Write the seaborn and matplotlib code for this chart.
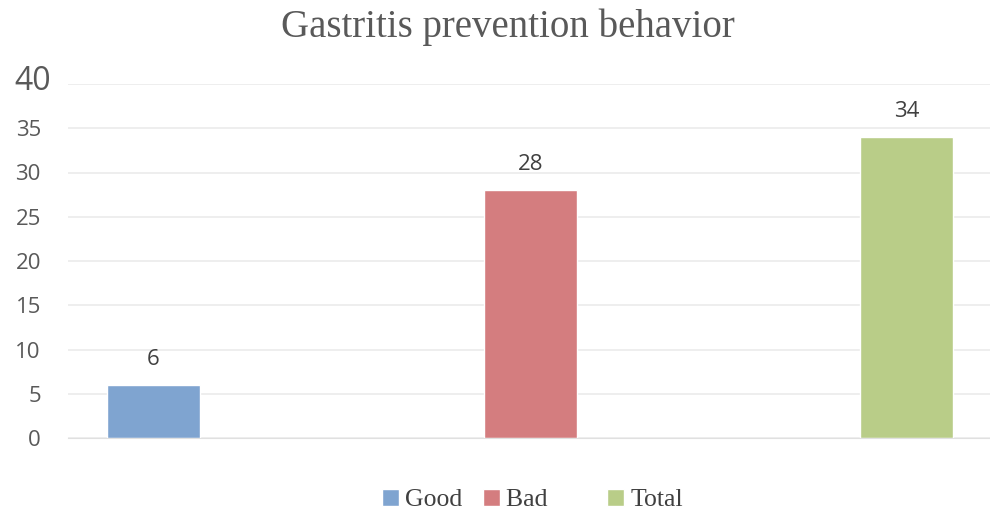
import matplotlib
matplotlib.use('Agg')
import matplotlib.pyplot as plt
import seaborn as sns
import pandas as pd

# Data
categories = ['Good', 'Bad', 'Total']
counts = [6, 28, 34]
colors = ['#7FA4D0', '#D47D7F', '#B9CD88']

df = pd.DataFrame({'group': categories, 'count': counts})

sns.set_style('white')
plt.rcParams['font.family'] = ['Open Sans', 'DejaVu Sans']

fig = plt.figure(figsize=(9.9, 5.14), dpi=100)
ax = fig.add_axes([68 / 990, 76 / 514, 1 - 68 / 990, 354 / 514])

sns.barplot(data=df, x='group', y='count', hue='group', palette=colors,
            width=0.247, dodge=False, legend=False, saturation=1, ax=ax)

ax.set_xlim(-0.227, 2.221)
ax.set_ylim(0, 40)
ax.set_yticks(range(0, 41, 5))
ax.set_yticklabels([str(v) for v in range(0, 36, 5)] + [''])
ax.yaxis.grid(True, color='#EBEBEB', linewidth=1.2)
ax.set_axisbelow(True)
for s in ['top', 'right', 'left']:
    ax.spines[s].set_visible(False)
ax.spines['bottom'].set_color('#E0E0E0')
ax.set_xticks([])
ax.set_xlabel('')
ax.set_ylabel('')
ax.tick_params(axis='y', length=0, labelsize=16, labelcolor='#595959', pad=19.5)

# top tick label is drawn larger and sticks out in the reference
ax.text(-54 / 922, 40.25, '40', transform=ax.get_yaxis_transform(),
        ha='left', va='center', fontsize=23, color='#595959', clip_on=False)

for c in ax.containers:
    ax.bar_label(c, padding=11, fontsize=16, color='#404040')

fig.text(0.513, 0.947, 'Gastritis prevention behavior', ha='center', va='center',
         fontsize=28, color='#595959', family='Liberation Serif')

handles = [c.patches[0] for c in ax.containers]
leg_labels = ['Good', 'Bad      ', 'Total']
fig.legend(handles, leg_labels, loc='center', bbox_to_anchor=(0.538, 0.027),
           ncol=3, frameon=False, handlelength=0.65, handleheight=0.65,
           handletextpad=0.25, columnspacing=0.8,
           prop={'family': 'Liberation Serif', 'size': 18.5},
           labelcolor='#404040')

fig.savefig('out.png', dpi=100, facecolor='white')
